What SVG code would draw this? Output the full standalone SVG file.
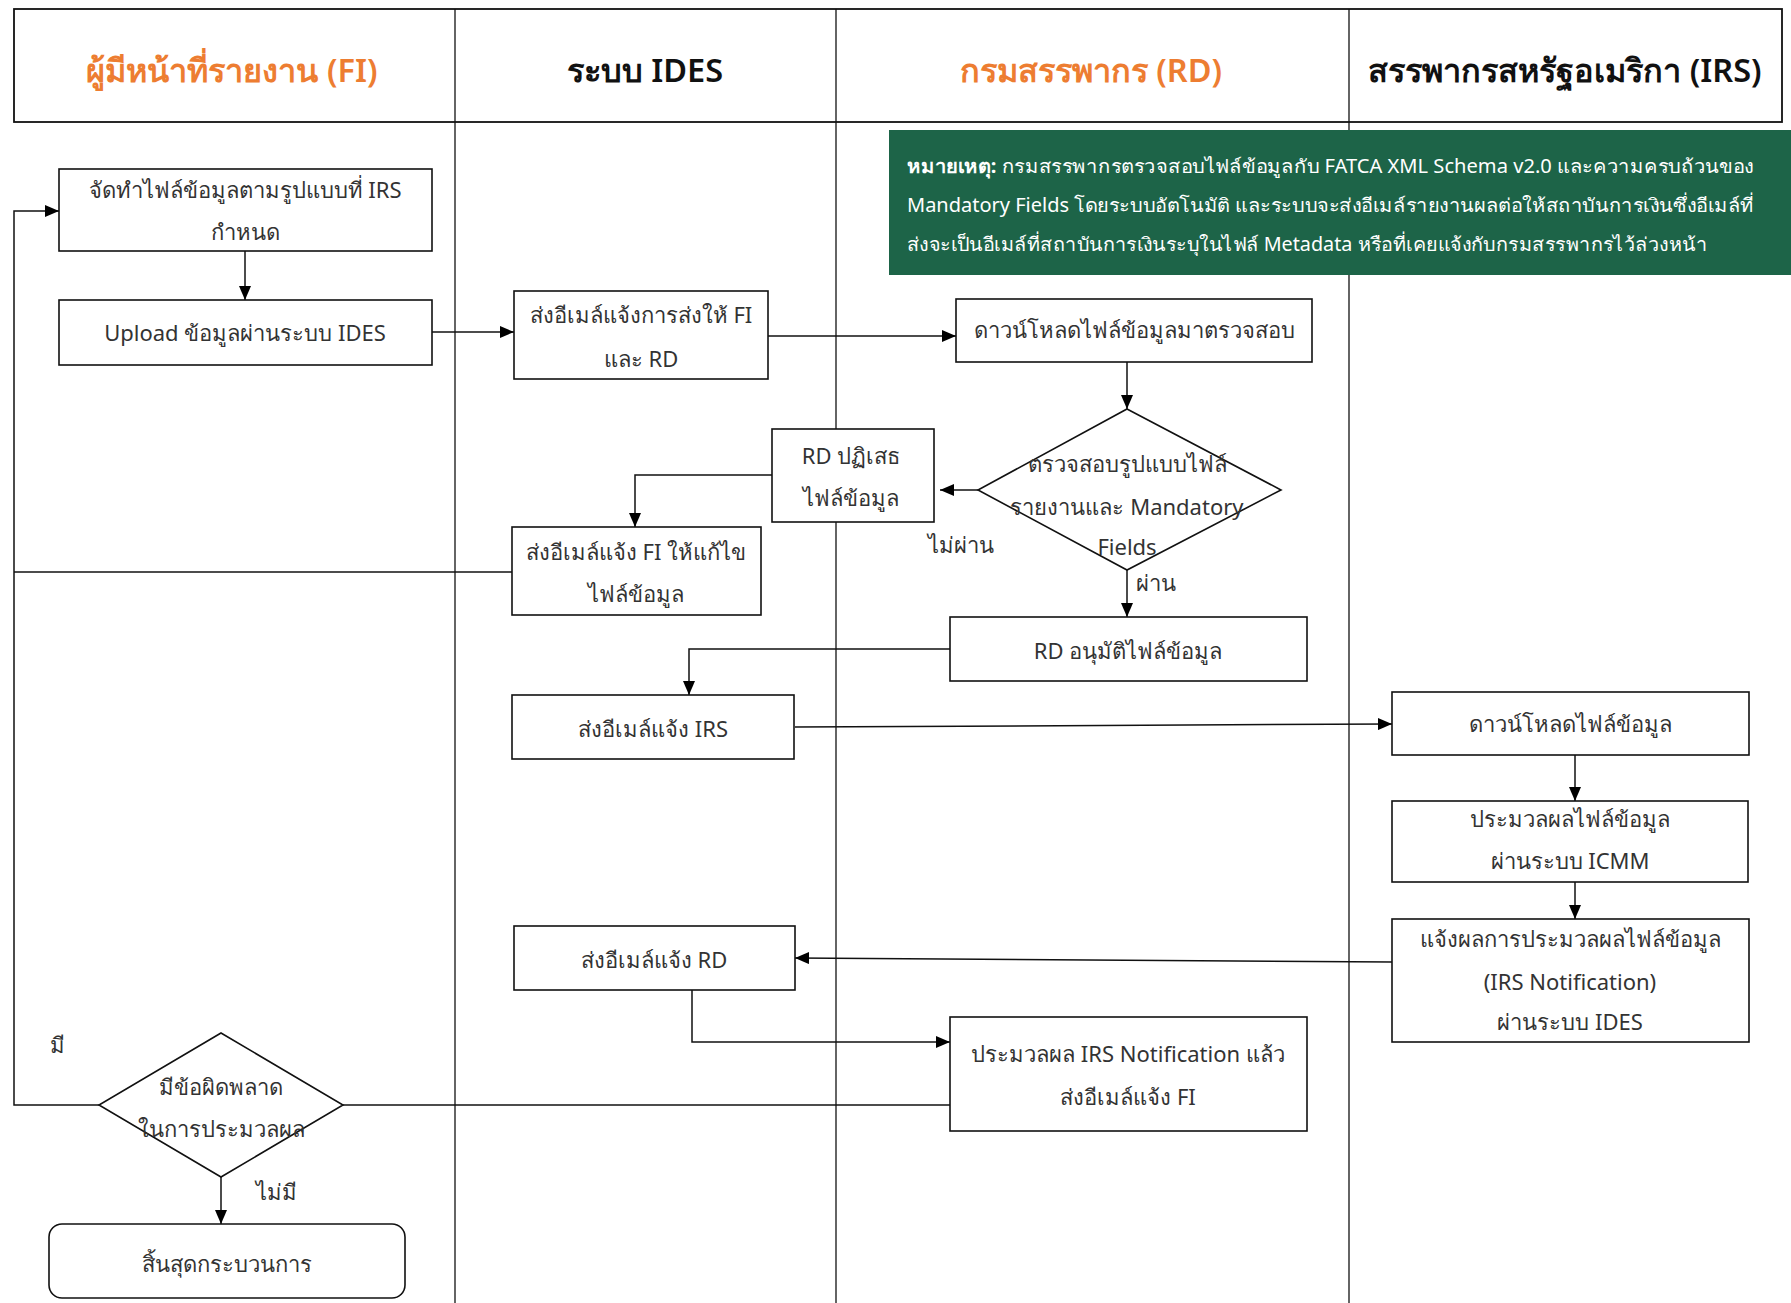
<svg xmlns="http://www.w3.org/2000/svg" width="1791" height="1303" viewBox="0 0 1791 1303">
<defs>
<marker id="arr" markerWidth="14" markerHeight="12" refX="14" refY="6" orient="auto" markerUnits="userSpaceOnUse">
<path d="M0,0 L14,6 L0,12 Z" fill="#000"/>
</marker>
<style>
.box{fill:#fff;stroke:#111;stroke-width:1.6}
.lane{stroke:#111;stroke-width:1.3;fill:none}
.c{stroke:#111;stroke-width:1.5;fill:none}
.t{font-family:"Noto Sans","DejaVu Sans",sans-serif;font-size:22px;fill:#333;text-anchor:middle}
.h{font-family:"Noto Sans","DejaVu Sans",sans-serif;font-size:32.5px;font-weight:600;text-anchor:middle}
.n{font-family:"Noto Sans","DejaVu Sans",sans-serif;font-size:19px;fill:#fff}
</style>
</defs>
<rect width="1791" height="1303" fill="#fff"/>
<g id="lanes">
<rect x="14" y="9" width="1768" height="113" fill="none" stroke="#111" stroke-width="1.8"/>
<line class="lane" x1="455" y1="9" x2="455" y2="1303"/>
<line class="lane" x1="836" y1="9" x2="836" y2="1303"/>
<line class="lane" x1="1349" y1="9" x2="1349" y2="1303"/>
<text class="h" x="232" y="82" fill="#ED7D31">ผู้มีหน้าที่รายงาน (FI)</text>
<text class="h" x="645" y="82" fill="#111">ระบบ IDES</text>
<text class="h" x="1091" y="82" fill="#ED7D31">กรมสรรพากร (RD)</text>
<text class="h" x="1565" y="82" fill="#111">สรรพากรสหรัฐอเมริกา (IRS)</text>
</g>
<g id="note">
<rect x="889" y="130" width="902" height="145" fill="#1D6448"/>
<text class="n" x="907" y="173" textLength="847" lengthAdjust="spacingAndGlyphs"><tspan font-weight="bold">หมายเหตุ:</tspan> กรมสรรพากรตรวจสอบไฟล์ข้อมูลกับ  FATCA XML Schema v2.0 และความครบถ้วนของ</text>
<text class="n" x="907" y="212" textLength="847" lengthAdjust="spacingAndGlyphs">Mandatory Fields โดยระบบอัตโนมัติ และระบบจะส่งอีเมล์รายงานผลต่อให้สถาบันการเงินซึ่งอีเมล์ที่</text>
<text class="n" x="907" y="251" textLength="800" lengthAdjust="spacingAndGlyphs">ส่งจะเป็นอีเมล์ที่สถาบันการเงินระบุในไฟล์  Metadata หรือที่เคยแจ้งกับกรมสรรพากรไว้ล่วงหน้า</text>
</g>
<g id="connectors">
<line class="c" x1="245" y1="251" x2="245" y2="300" marker-end="url(#arr)"/>
<line class="c" x1="432" y1="332" x2="514" y2="332" marker-end="url(#arr)"/>
<line class="c" x1="768" y1="336" x2="956" y2="336" marker-end="url(#arr)"/>
<line class="c" x1="1127" y1="362" x2="1127" y2="409" marker-end="url(#arr)"/>
<line class="c" x1="978" y1="490" x2="940" y2="490" marker-end="url(#arr)"/>
<polyline class="c" points="772,475 635,475 635,527" marker-end="url(#arr)"/>
<line class="c" x1="512" y1="572" x2="14" y2="572"/>
<line class="c" x1="1127" y1="570" x2="1127" y2="617" marker-end="url(#arr)"/>
<polyline class="c" points="950,649 689,649 689,695" marker-end="url(#arr)"/>
<line class="c" x1="795" y1="727" x2="1392" y2="724" marker-end="url(#arr)"/>
<line class="c" x1="1575" y1="755" x2="1575" y2="801" marker-end="url(#arr)"/>
<line class="c" x1="1575" y1="882" x2="1575" y2="919" marker-end="url(#arr)"/>
<line class="c" x1="1392" y1="962" x2="795" y2="958" marker-end="url(#arr)"/>
<polyline class="c" points="692,990 692,1042 950,1042" marker-end="url(#arr)"/>
<line class="c" x1="950" y1="1105" x2="343" y2="1105"/>
<polyline class="c" points="99,1105 14,1105 14,211 59,211" marker-end="url(#arr)"/>
<line class="c" x1="221" y1="1177" x2="221" y2="1224" marker-end="url(#arr)"/>
<text class="t" x="961" y="553">ไม่ผ่าน</text>
<text class="t" x="1156" y="591">ผ่าน</text>
<text class="t" x="57" y="1053">มี</text>
<text class="t" x="276" y="1200">ไม่มี</text>
</g>
<g id="n1"><rect class="box" x="59" y="169" width="373" height="82"/>
<text class="t" x="245" y="198">จัดทำไฟล์ข้อมูลตามรูปแบบที่ IRS</text><text class="t" x="245" y="240">กำหนด</text></g>
<g id="n2"><rect class="box" x="59" y="300" width="373" height="65"/>
<text class="t" x="245" y="341">Upload ข้อมูลผ่านระบบ IDES</text></g>
<g id="n3"><rect class="box" x="514" y="291" width="254" height="88"/>
<text class="t" x="641" y="323">ส่งอีเมล์แจ้งการส่งให้ FI</text><text class="t" x="641" y="367">และ RD</text></g>
<g id="n4"><rect class="box" x="956" y="299" width="356" height="63"/>
<text class="t" x="1134" y="338">ดาวน์โหลดไฟล์ข้อมูลมาตรวจสอบ</text></g>
<g id="n5"><polygon class="box" points="1127,409 1281,490 1127,570 978,490"/>
<text class="t" x="1127" y="472">ตรวจสอบรูปแบบไฟล์</text><text class="t" x="1127" y="515">รายงานและ Mandatory</text><text class="t" x="1127" y="555">Fields</text></g>
<g id="n6"><rect class="box" x="772" y="429" width="162" height="93"/>
<text class="t" x="851" y="464">RD ปฏิเสธ</text><text class="t" x="851" y="506">ไฟล์ข้อมูล</text></g>
<g id="n7"><rect class="box" x="512" y="527" width="249" height="88"/>
<text class="t" x="636" y="560">ส่งอีเมล์แจ้ง FI ให้แก้ไข</text><text class="t" x="636" y="602">ไฟล์ข้อมูล</text></g>
<g id="n8"><rect class="box" x="950" y="617" width="357" height="64"/>
<text class="t" x="1128" y="659">RD อนุมัติไฟล์ข้อมูล</text></g>
<g id="n9"><rect class="box" x="512" y="695" width="282" height="64"/>
<text class="t" x="653" y="737">ส่งอีเมล์แจ้ง IRS</text></g>
<g id="n10"><rect class="box" x="1392" y="692" width="357" height="63"/>
<text class="t" x="1570" y="732">ดาวน์โหลดไฟล์ข้อมูล</text></g>
<g id="n11"><rect class="box" x="1392" y="801" width="356" height="81"/>
<text class="t" x="1570" y="827">ประมวลผลไฟล์ข้อมูล</text><text class="t" x="1570" y="869">ผ่านระบบ ICMM</text></g>
<g id="n12"><rect class="box" x="1392" y="919" width="357" height="123"/>
<text class="t" x="1570" y="947">แจ้งผลการประมวลผลไฟล์ข้อมูล</text><text class="t" x="1570" y="990">(IRS Notification)</text><text class="t" x="1570" y="1030">ผ่านระบบ IDES</text></g>
<g id="n13"><rect class="box" x="514" y="926" width="281" height="64"/>
<text class="t" x="654" y="968">ส่งอีเมล์แจ้ง RD</text></g>
<g id="n14"><rect class="box" x="950" y="1017" width="357" height="114"/>
<text class="t" x="1128" y="1062">ประมวลผล IRS Notification แล้ว</text><text class="t" x="1128" y="1105">ส่งอีเมล์แจ้ง FI</text></g>
<g id="n15"><polygon class="box" points="221,1033 343,1105 221,1177 99,1105"/>
<text class="t" x="221" y="1095">มีข้อผิดพลาด</text><text class="t" x="221" y="1137">ในการประมวลผล</text></g>
<g id="n16"><rect class="box" x="49" y="1224" width="356" height="74" rx="13"/>
<text class="t" x="227" y="1272">สิ้นสุดกระบวนการ</text></g>
</svg>
